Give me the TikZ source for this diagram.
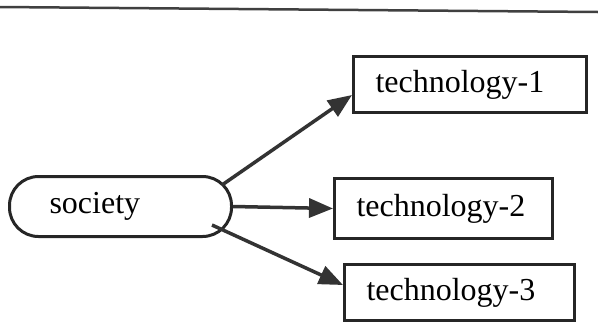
\documentclass[tikz,border=0pt]{standalone}
\usepackage{fontspec}
\setmainfont{Liberation Serif}
\usetikzlibrary{arrows.meta}
\begin{document}
\begin{tikzpicture}[x=1pt,y=-1pt,
  txt/.style={font=\fontsize{32}{38}\selectfont},
  techbox/.style={txt,draw=black!85,line width=3pt,rectangle,anchor=north west,inner xsep=22pt,inner ysep=0pt,align=left},
  socbox/.style={txt,draw=black!85,line width=3pt,rounded corners=29pt,anchor=north west,inner xsep=40pt,inner ysep=0pt,align=left},
  conn/.style={draw=black!80,line width=3.5pt,-{Triangle[length=24pt,width=19pt]}}]
\useasboundingbox (0,0) rectangle (598,325);
\draw[line width=2.5pt,black!75] (0,7) -- (598,12);
\node[socbox,text width=142pt,minimum height=60pt] (soc) at (8,175) {society};
\node[techbox,text width=189pt,minimum height=56pt] (t1) at (352,55) {technology-1};
\node[techbox,text width=174pt,minimum height=60pt] (t2) at (333,177) {technology-2};
\node[techbox,text width=186pt,minimum height=56pt] (t3) at (343,263) {technology-3};
\coordinate (s1) at (222,185);
\coordinate (s3) at (212,225);
\draw[conn] (s1) -- (t1.west |- 0,95);
\draw[conn] (soc.east) -- (t2.west);
\draw[conn] (s3) -- (t3.west |- 0,285);
\end{tikzpicture}
\end{document}
